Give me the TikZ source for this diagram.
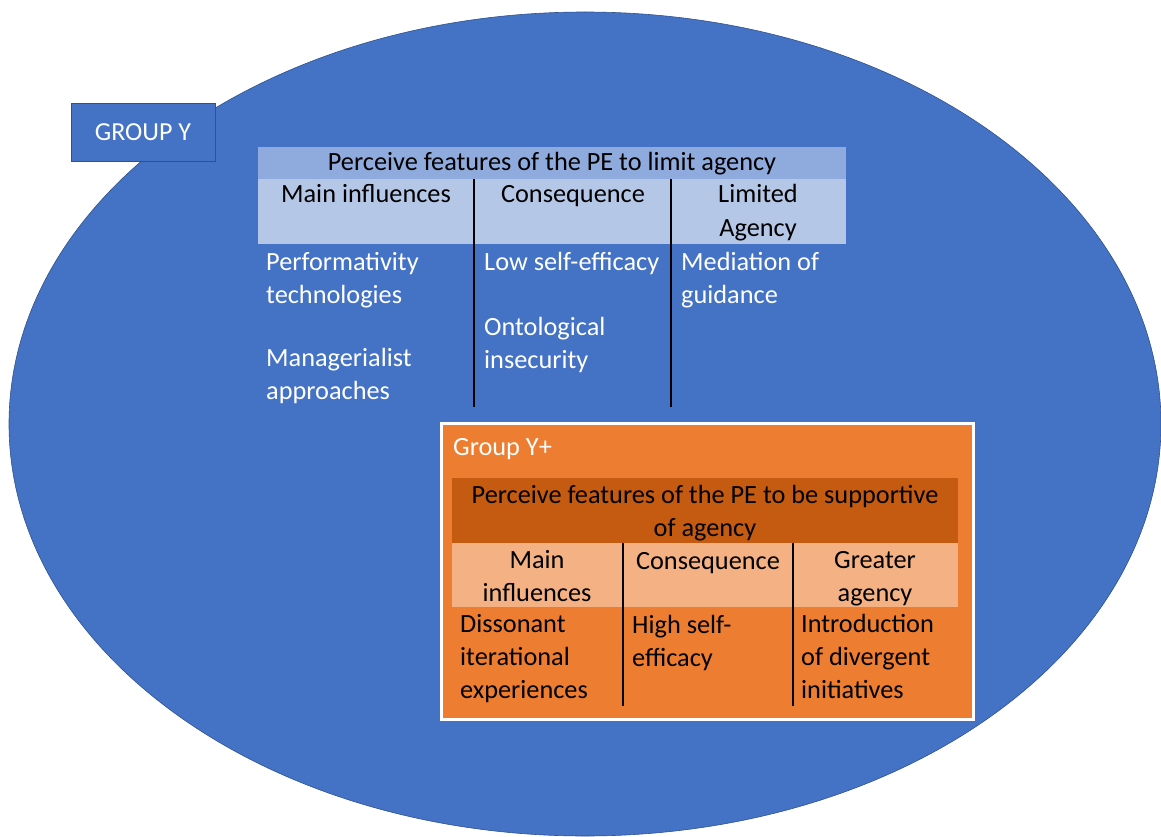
\documentclass[tikz,border=0pt]{standalone}
\usepackage{fontspec}
\setmainfont{Carlito}
\definecolor{groupblue}{HTML}{4472C4}
\definecolor{edgeblue}{HTML}{2F528F}
\definecolor{headblue}{HTML}{8FAADC}
\definecolor{subblue}{HTML}{B4C7E7}
\definecolor{orangefill}{HTML}{ED7D31}
\definecolor{orangedark}{HTML}{C55A11}
\definecolor{orangelight}{HTML}{F4B183}
% multi-line nodes sit on the baseline of their last line
\tikzset{
  txt/.style={inner sep=0pt, font=\fontsize{26.3}{33}\selectfont},
  lefttxt/.style={txt, anchor=base west, align=left},
  midtxt/.style={txt, anchor=base, align=center},
  colrule/.style={line width=1.4pt, black},
}
\begin{document}
\begin{tikzpicture}[x=1pt, y=-1pt]
\useasboundingbox (0,0) rectangle (1161,837);
% the Group Y ellipse
\draw[fill=groupblue, draw=edgeblue, line width=0.6pt] (585,424) ellipse [x radius=576, y radius=412];
% Group Y label box
\node[draw=edgeblue, fill=groupblue, line width=0.8pt, minimum width=144pt, minimum height=58pt, inner sep=0pt,
      text=white, font=\fontsize{26}{33}\selectfont] (gy) at (143,132) {GROUP Y};

% table: limiting features
\fill[headblue] (258,147) rectangle (846,179);
\fill[subblue] (258,179) rectangle (846,244);
\coordinate (la) at (474,179); \coordinate (lb) at (474,407);
\coordinate (ra) at (671,179); \coordinate (rb) at (671,407);
\draw[colrule] (la) -- (lb);
\draw[colrule] (ra) -- (rb);
\node[midtxt] (lhead) at (552,171) {Perceive features of the PE to limit agency};
\node[midtxt] (lc1) at (366,203) {Main influences};
\node[midtxt] (lc2) at (573,203) {Consequence};
\node[midtxt] (lc3) at (758,236) {Limited\\Agency};
\node[lefttxt, text=white] (lb1) at (266,303) {Performativity\\technologies};
\node[lefttxt, text=white] (lb2) at (266,399) {Managerialist\\approaches};
\node[lefttxt, text=white] (lb3) at (484,270) {Low self-efficacy};
\node[lefttxt, text=white] (lb4) at (484,368) {Ontological\\insecurity};
\node[lefttxt, text=white] (lb5) at (681,303) {Mediation of\\guidance};

% Group Y+ box
\draw[fill=orangefill, draw=white, line width=3pt] (441,423) rectangle (973,719);
\node[lefttxt, text=white] (gyp) at (453,455) {Group Y+};
\fill[orangedark] (452,478) rectangle (958,543);
\fill[orangelight] (452,543) rectangle (958,607);
\coordinate (oa) at (623,543); \coordinate (ob) at (623,706);
\coordinate (pa) at (793,543); \coordinate (pb) at (793,706);
\draw[colrule] (oa) -- (ob);
\draw[colrule] (pa) -- (pb);
\node[midtxt] (ohead) at (705,536) {Perceive features of the PE to be supportive\\of agency};
\node[midtxt] (oc1) at (537,601) {Main\\influences};
\node[midtxt] (oc2) at (708,569) {Consequence};
\node[midtxt] (oc3) at (875,601) {Greater\\agency};
\node[lefttxt] (ob1) at (460,698) {Dissonant\\iterational\\experiences};
\node[lefttxt] (ob2) at (632,666) {High self-\\efficacy};
\node[lefttxt] (ob3) at (801,698) {Introduction\\of divergent\\initiatives};
\end{tikzpicture}
\end{document}
